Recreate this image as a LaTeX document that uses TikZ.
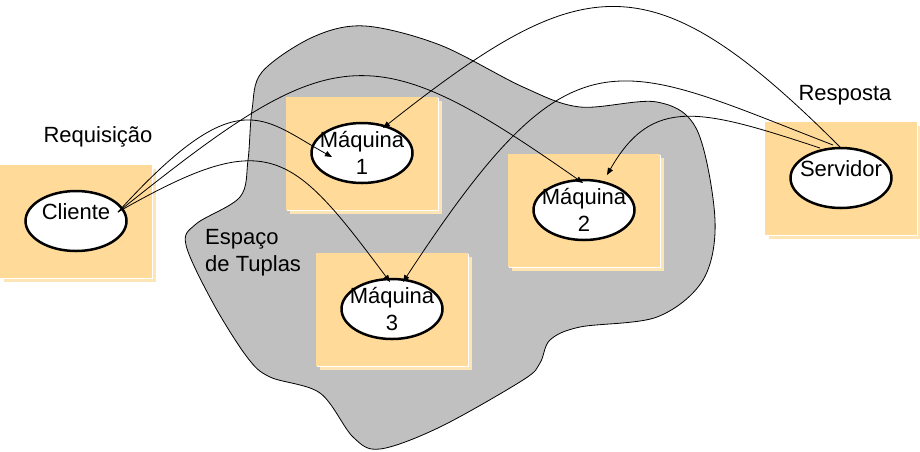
\documentclass[tikz,border=0pt]{standalone}
\usepackage{fontspec}
\setmainfont{Liberation Sans}
\usepackage{xcolor}
\usetikzlibrary{shapes.geometric}
\usetikzlibrary{shadows}
\usetikzlibrary{arrows.meta}

\definecolor{laranja}{RGB}{255,218,153}
\definecolor{laranjaclaro}{RGB}{254,229,182}
\definecolor{cinza}{RGB}{192,192,192}

\tikzset{
  caixa/.style={rectangle, fill=laranja, inner sep=0pt,
    minimum width=152pt, minimum height=113pt,
    general shadow={fill=laranjaclaro, shadow xshift=4pt, shadow yshift=-4pt},
    general shadow={fill=white, shadow xshift=1.2pt, shadow yshift=-1.2pt}},
  maq/.style={ellipse, draw, line width=2.5pt, fill=white, inner sep=-8pt,
    minimum width=101pt, minimum height=60pt, align=center,
    font=\fontsize{22}{27}\selectfont},
  umalinha/.style={text height=16pt, text depth=20pt},
  rotulo/.style={inner sep=0pt, font=\fontsize{22}{27}\selectfont},
  seta/.style={-{Triangle[length=7pt,width=5.5pt]}, line width=.8pt}
}

\begin{document}
\begin{tikzpicture}[x=1pt, y=-1pt]
  \useasboundingbox (0,0) rectangle (920,451);

  % espaco de tuplas
  \draw[fill=cinza, line width=.8pt] plot[smooth cycle, tension=.55] coordinates {
    (365,26) (440,45) (523,87) (580,107) (657,102) (697,130) (715,220)
    (703,280) (657,317) (580,327) (550,340) (540,363) (523,380) (440,427)
    (380,449) (353,437) (320,393) (270,377) (247,357) (213,303) (186,245)
    (196,224) (240,197) (248,160) (252,110) (262,72) (313,37)};

  \node[caixa] (cli-caixa) at (76,221) {};
  \node[caixa] (m1-caixa) at (362,153) {};
  \node[caixa] (m2-caixa) at (584,210) {};
  \node[caixa] (m3-caixa) at (392,309) {};
  \node[caixa] (serv-caixa) at (841,178) {};

  \node[maq, umalinha] (cli) at (cli-caixa) {Cliente};
  \node[maq] (m1) at (m1-caixa) {Máquina\\1};
  \node[maq] (m2) at (m2-caixa) {Máquina\\2};
  \node[maq] (m3) at (m3-caixa) {Máquina\\3};
  \node[maq, umalinha] (serv) at (serv-caixa) {Servidor};

  \node[rotulo, anchor=base] (req) at (98,142) {Requisição};
  \node[rotulo, anchor=base] (resp) at (845,100) {Resposta};
  \node[rotulo, anchor=north west, align=left] (tuplas) at (205,229) {Espaço\\de Tuplas};

  % requisicoes
  \draw[seta] ([shift={(42,-9)}]cli.center) .. controls +(120,-132) and +(-70,-38.5) .. ([shift={(-30,4)}]m1.center);
  \draw[seta] ([shift={(42,-9)}]cli.center) .. controls +(215,-172) and +(-215,-150.5) .. ([shift={(-1,-27)}]m2.center);
  \draw[seta] ([shift={(42,-9)}]cli.center) .. controls +(150,-85.5) and +(-100,-134) .. ([shift={(-2,-27)}]m3.center);

  % respostas
  \draw[seta] ([shift={(-1,-31)}]serv.center) .. controls +(-190,-190) and +(200,-158) .. ([shift={(21,-25)}]m1.center);
  \draw[seta] ([shift={(-8,-33)}]serv.center) .. controls +(-220,-85) and +(170,-260) .. ([shift={(11,-27)}]m3.center);
  \draw[seta] ([shift={(-21,-30)}]serv.center) .. controls +(-120,-39.6) and +(45,-79) .. ([shift={(23,-35)}]m2.center);
\end{tikzpicture}
\end{document}
